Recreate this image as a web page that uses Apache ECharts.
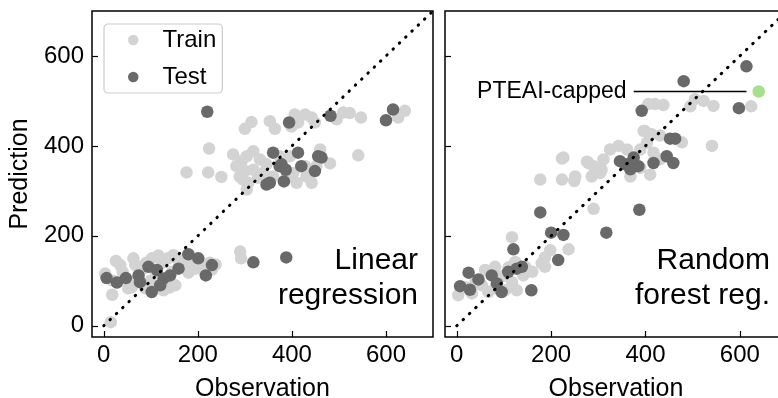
<!DOCTYPE html>
<html>
<head>
<meta charset="utf-8">
<script src="https://cdn.jsdelivr.net/npm/echarts@6/dist/echarts.min.js"></script>
<style>html,body{margin:0;padding:0;background:#fff;}#c{width:778px;height:398px;}</style>
</head>
<body>
<div id="c"></div>
<script>
// ---- data (observation, prediction) ----
const tickValues = [0, 200, 400, 600];
const lrTrain = [
  [15,8],[18,69],[3,116],[26,144],[35,135],[63,150],[67,135],[52,83],[60,86],[102,150],[116,156],[137,150],
  [148,157],[159,146],[152,90],[88,83],[127,79],[187,142],[194,127],[238,136],[290,165],[292,150],
  [40,120],[80,125],[90,140],[110,120],[125,140],[130,95],[145,120],[170,130],[175,150],[200,140],
  [210,125],[225,140],[20,100],[70,100],[100,100],[140,85],[180,118],[230,125],
  [176,341],[222,341],[250,331],[224,394],[300,438],[314,453],[353,455],[364,438],[406,470],[428,470],
  [442,463],[413,452],[399,443],[449,452],[495,459],[509,474],[523,473],[547,463],[626,463],[640,478],
  [541,379],[442,318],[481,361],[275,381],[293,366],[300,344],[318,388],[332,370],[328,329],[307,318],
  [289,332],[282,355],[346,359],[374,377],[396,377],[403,340],[431,332],[410,318],[460,392],[452,355],
  [339,340],[304,377],[318,347],[296,325],[360,332],[389,329],[304,303],[428,355]
];
const lrTest = [
  [220,476],[394,452],[482,467],[600,457],[615,481],[360,385],[378,359],[374,355],[387,347],[413,385],
  [420,355],[449,344],[456,377],[463,374],[346,314],[353,318],[383,321],
  [6,106],[28,96],[47,106],[74,112],[77,97],[95,131],[102,75],[113,124],[120,90],[127,105],[141,112],
  [159,127],[180,159],[201,150],[217,112],[230,135],[318,141],[388,152]
];
const rfTrain = [
  [624,488],[406,493],[420,493],[438,491],[495,488],[505,504],[523,500],[544,489],[541,400],[399,433],
  [413,426],[431,423],[477,408],[226,374],[223,372],[177,325],[223,325],[249,322],[279,362],[307,347],
  [276,365],[290,355],[311,370],[325,392],[343,400],[361,392],[389,392],[403,407],[396,433],[417,385],
  [431,370],[389,351],[368,332],[410,336],[304,340],[286,332],[251,332],[290,260],
  [117,197],[187,152],[187,131],[198,168],[237,170],[180,139],
  [3,68],[32,72],[60,124],[81,131],[124,142],[145,131],[141,112],[117,97],[127,79],[67,75],[53,90],
  [102,79],[81,83],[40,100],[95,110],[160,120],[20,85],[110,130]
];
const rfTest = [
  [614,577],[481,544],[392,478],[598,484],[452,416],[463,416],[445,377],[459,362],[417,362],[346,366],
  [364,359],[375,374],[385,355],[357,359],[368,348],
  [177,252],[200,207],[226,202],[317,207],[387,258],[120,170],[215,146],[25,118],[46,103],[7,88],
  [28,80],[74,112],[85,94],[95,75],[109,120],[127,127],[138,131],[158,79]
];
const capped = [[640,521]];
const cappedLine = [[375,521],[614,521]];
const diagonal = [[0,0],[700,700]];

const FONT = '"Liberation Sans", Arial, sans-serif';
const TRAIN_C = '#d3d3d3', TEST_C = '#696969';

function xAxisDef(idx) {
  return {
    gridIndex: idx, type: 'value', min: -25, max: 700,
    name: 'Observation', nameLocation: 'middle', nameGap: 40, nameMoveOverlap: false,
    nameTextStyle: {fontSize: 25, color: '#000', fontFamily: FONT},
    axisLine: {show: false, onZero: false},
    splitLine: {show: false},
    axisTick: {show: true, inside: true, length: 6, customValues: tickValues, lineStyle: {color: '#000', width: 1.2}},
    axisLabel: {show: true, customValues: tickValues, fontSize: 24, color: '#000', fontFamily: FONT, margin: 6}
  };
}
function yAxisDef(idx, labels) {
  return {
    gridIndex: idx, type: 'value', min: -25, max: 700,
    name: labels ? 'Prediction' : '', nameLocation: 'middle', nameGap: 59, nameMoveOverlap: false,
    nameTextStyle: {fontSize: 25, color: '#000', fontFamily: FONT},
    axisLine: {show: false, onZero: false},
    splitLine: {show: false},
    axisTick: {show: true, inside: true, length: 6, customValues: tickValues, lineStyle: {color: '#000', width: 1.2}},
    axisLabel: {show: labels, customValues: tickValues, fontSize: 24, color: '#000', fontFamily: FONT, margin: 8}
  };
}
function scatter(name, data, color, idx) {
  return {type: 'scatter', name: name, xAxisIndex: idx, yAxisIndex: idx, data: data,
    symbolSize: 12.5, itemStyle: {color: color, opacity: 1}, silent: true};
}
function diag(idx) {
  return {type: 'line', xAxisIndex: idx, yAxisIndex: idx, data: diagonal, symbol: 'none', silent: true,
    lineStyle: {color: '#000', width: 3, type: [0.5, 8.2], cap: 'round'}, z: 5};
}

const option = {
  animation: false,
  grid: [
    {left: 92, top: 11, width: 341, height: 326, show: true, borderColor: '#000', borderWidth: 1.5,
      containLabel: false, outerBoundsMode: 'none'},
    {left: 445, top: 11, width: 342, height: 326, show: true, borderColor: '#000', borderWidth: 1.5,
      containLabel: false, outerBoundsMode: 'none'}
  ],
  xAxis: [xAxisDef(0), xAxisDef(1)],
  yAxis: [yAxisDef(0, true), yAxisDef(1, false)],
  legend: {
    data: ['Train', 'Test'], orient: 'vertical', left: 104, top: 24,
    icon: 'circle', itemWidth: 10.5, itemHeight: 10.5, itemGap: 13,
    padding: [4, 6, 4, 24],
    backgroundColor: '#fff', borderColor: '#cccccc', borderWidth: 1.2, borderRadius: 4,
    formatter: function (n) { return '{g|}{t|' + n + '}'; },
    textStyle: {fontSize: 24, color: '#000', fontFamily: FONT,
      rich: {g: {width: 19}, t: {fontSize: 24, color: '#000', fontFamily: FONT}}},
    selectedMode: false
  },
  series: [
    scatter('Train', lrTrain, TRAIN_C, 0),
    scatter('Test', lrTest, TEST_C, 0),
    diag(0),
    scatter('Train', rfTrain, TRAIN_C, 1),
    scatter('Test', rfTest, TEST_C, 1),
    diag(1),
    {type: 'line', xAxisIndex: 1, yAxisIndex: 1, symbol: 'circle', symbolSize: 0.1, showSymbol: true, silent: true,
      lineStyle: {color: '#000', width: 1.5}, itemStyle: {color: '#000'},
      data: [{value: cappedLine[0], label: {show: true, position: 'left', distance: 7, formatter: 'PTEAI-capped',
        fontSize: 23, color: '#000', fontFamily: FONT}}, {value: cappedLine[1]}], z: 4},
    {type: 'scatter', xAxisIndex: 1, yAxisIndex: 1, data: capped, symbolSize: 12.5, silent: true,
      itemStyle: {color: '#a8df8e', opacity: 1}}
  ],
  graphic: [
    {type: 'text', x: 418, y: 261, style: {text: 'Linear', fontSize: 30, fontFamily: FONT, fill: '#000', align: 'right', verticalAlign: 'middle'}},
    {type: 'text', x: 418, y: 296, style: {text: 'regression', fontSize: 30, fontFamily: FONT, fill: '#000', align: 'right', verticalAlign: 'middle'}},
    {type: 'text', x: 770, y: 261, style: {text: 'Random', fontSize: 30, fontFamily: FONT, fill: '#000', align: 'right', verticalAlign: 'middle'}},
    {type: 'text', x: 770, y: 296, style: {text: 'forest reg.', fontSize: 30, fontFamily: FONT, fill: '#000', align: 'right', verticalAlign: 'middle'}}
  ]
};
const chart = echarts.init(document.getElementById('c'), null, {renderer: 'canvas'});
chart.setOption(option);
</script>
</body>
</html>
